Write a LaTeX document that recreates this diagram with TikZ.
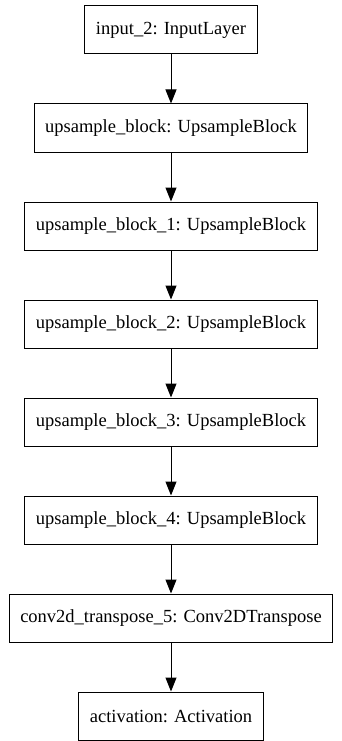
\documentclass[tikz,border=0pt]{standalone}
\usepackage{fontspec}
\setmainfont{Liberation Serif}
\usetikzlibrary{positioning,arrows.meta}
\tikzstyle{layer}=[rectangle, draw=black, line width=1pt, fill=white, minimum height=48pt, inner xsep=11pt, font=\fontsize{18.5}{21}\selectfont]
\tikzstyle{flow}=[line width=1pt, -{Triangle[length=14pt,width=11pt]}]

\begin{document}
\begin{tikzpicture}[x=1pt, y=-1pt, node distance=49pt]
                    \useasboundingbox (0,0) rectangle (341,741);
                    \node[layer] (input) at (171,30) {input\_2: InputLayer};
                    \node[layer, below=of input] (up0) {upsample\_block: UpsampleBlock};
                    \node[layer, below=of up0] (up1) {upsample\_block\_1: UpsampleBlock};
                    \node[layer, below=of up1] (up2) {upsample\_block\_2: UpsampleBlock};
                    \node[layer, below=of up2] (up3) {upsample\_block\_3: UpsampleBlock};
                    \node[layer, below=of up3] (up4) {upsample\_block\_4: UpsampleBlock};
                    \node[layer, below=of up4] (conv) {conv2d\_transpose\_5: Conv2DTranspose};
                    \node[layer, below=of conv] (act) {activation: Activation};
                    \draw[flow] (input) -- (up0);
                    \draw[flow] (up0) -- (up1);
                    \draw[flow] (up1) -- (up2);
                    \draw[flow] (up2) -- (up3);
                    \draw[flow] (up3) -- (up4);
                    \draw[flow] (up4) -- (conv);
                    \draw[flow] (conv) -- (act);
\end{tikzpicture}
\end{document}
